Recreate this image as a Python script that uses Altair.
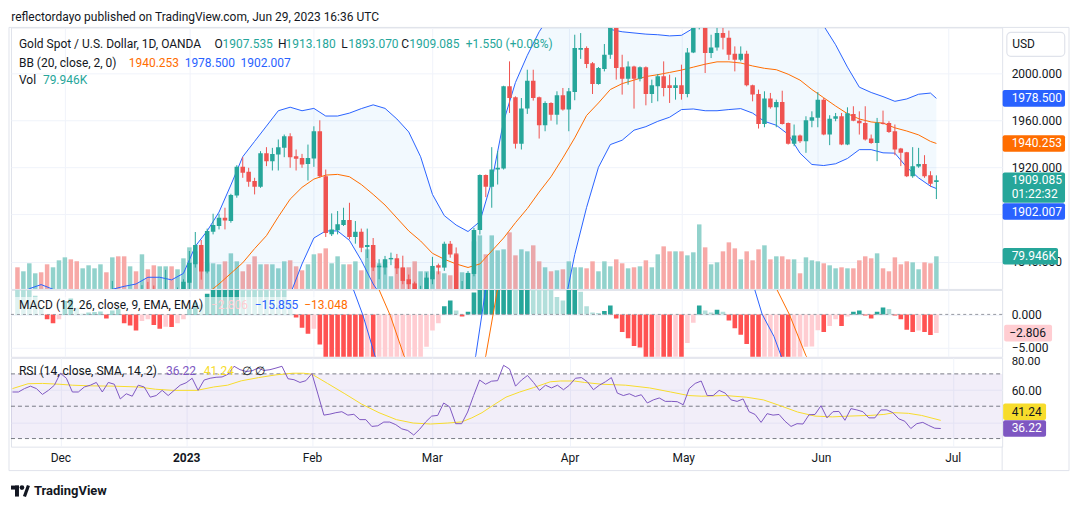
import altair as alt
import pandas as pd

# ------------------------------------------------------------------
# Daily XAU/USD (OANDA) bars: index 0 = 21 Nov 2022 ... 155 = 29 Jun 2023
# ------------------------------------------------------------------
OPEN = [1750, 1738, 1740, 1750, 1755, 1754, 1741, 1749, 1768, 1803,
        1797, 1769, 1771, 1786, 1789, 1797, 1781, 1810, 1807, 1777,
        1793, 1788, 1816, 1814, 1792, 1798, 1813, 1804, 1815, 1822,
        1837.7, 1854.1, 1831.5, 1865.4, 1870.2, 1877.2, 1874.4, 1896.1, 1920.4, 1916.2,
        1908.3, 1903.5, 1932, 1925.2, 1930.9, 1936.5, 1946.4, 1929.4, 1928, 1922.9,
        1927.5, 1950.6, 1912.5, 1863.1, 1866.5, 1871, 1875.2, 1860.9, 1865.4, 1852.4,
        1854, 1835.2, 1835, 1841.9, 1842.8, 1834.9, 1825, 1821.5, 1811, 1816.5,
        1825, 1836.9, 1834.9, 1855.2, 1846.2, 1813, 1814, 1829.5, 1866.8, 1913.4,
        1903.5, 1918.1, 1919, 1988.7, 1979.4, 1939.9, 1969.8, 1993.5, 1979.4, 1955.7,
        1974.6, 1964.7, 1981.1, 1969, 1983.9, 2019.8, 2021.2, 2008.2, 1990.7, 2003.4,
        2015.5, 2040, 2004.8, 1995.2, 2005.6, 1995.2, 2004.8, 1982.2, 1988.7, 1997.2,
        1989.6, 1987.3, 1989.6, 1982.2, 2017.5, 2039.5, 2050, 2016.9, 2021.7, 2034,
        2030, 2016.4, 2011.3, 2016.4, 1989.6, 1982.2, 1956.8, 1978.3, 1970.9, 1975.4,
        1957.7, 1939.9, 1946.9, 1942.1, 1959.6, 1962, 1977.4, 1947.8, 1961.3, 1963.3,
        1939.3, 1965.3, 1959.6, 1957.7, 1944.4, 1940.7, 1957.9, 1957.7, 1950.6, 1935.9,
        1932.8, 1912.5, 1920.7, 1922.9, 1913.3, 1907.535]
HIGH = [1752, 1750, 1755, 1760, 1759, 1764, 1763, 1774, 1805, 1810,
        1810, 1777, 1790, 1795, 1807, 1799, 1823.6, 1814, 1808, 1799,
        1799, 1820, 1822.8, 1819.7, 1805, 1833, 1814, 1818, 1825, 1849,
        1865.1, 1858.3, 1868, 1880.6, 1880.6, 1885.7, 1897.5, 1921.8, 1928.6, 1919.6,
        1911.1, 1933.7, 1937.1, 1936.5, 1943.6, 1947.8, 1948.9, 1935.1, 1931.4, 1939.3,
        1954.8, 1959.9, 1918.1, 1880.9, 1882.9, 1885.7, 1889.9, 1874.4, 1868, 1868,
        1860, 1842, 1844.8, 1847.6, 1846.5, 1845, 1829, 1823, 1819.5, 1830.7,
        1844, 1838.3, 1856.9, 1857.5, 1852, 1823.5, 1832, 1868.5, 1914, 1913.9,
        1937.1, 1933.7, 1989.2, 2009.9, 1980.2, 1978.8, 2002.8, 2002.8, 1980, 1976,
        1975.2, 1984.5, 1987.3, 1987.3, 2032.5, 2033.9, 2022.6, 2009.3, 2005.1, 2024.6,
        2048, 2047, 2015.5, 2009.9, 2006.2, 2005.6, 2005.6, 1994.4, 1999.2, 2009.9,
        1998.6, 1996.3, 2007.1, 2021.2, 2042, 2079, 2062, 2032.5, 2040, 2048,
        2036, 2022.6, 2022.6, 2018.9, 1990.1, 1985.9, 1984.5, 1983.1, 1977.4, 1985,
        1958, 1956.3, 1947.8, 1963.3, 1967.5, 1983.9, 1978.8, 1964.2, 1966.1, 1966.1,
        1970.9, 1971.8, 1967.5, 1971.8, 1947.8, 1961.9, 1968.1, 1959.1, 1956.3, 1936.5,
        1933.1, 1937.1, 1936.5, 1930.3, 1916.7, 1913.18]
LOW = [1734, 1736, 1733, 1748, 1749, 1740, 1740, 1745, 1766, 1787,
       1765, 1765, 1769, 1782, 1787, 1776, 1778, 1802, 1773, 1775,
       1784, 1786, 1810, 1785, 1791, 1796, 1798, 1800, 1812, 1815,
       1834.9, 1824.7, 1830, 1863.1, 1867.3, 1867.3, 1873, 1894.2, 1911.1, 1903.5,
       1897, 1902.6, 1921, 1917.3, 1917.3, 1928.6, 1919.6, 1917.3, 1919.6, 1908.8,
       1920.4, 1911.1, 1860.9, 1861.7, 1863.1, 1870.2, 1858.9, 1855.2, 1848, 1843,
       1832, 1825, 1829, 1837, 1829.5, 1820.8, 1816, 1809, 1805, 1813,
       1820.8, 1829.2, 1832.1, 1843.3, 1811, 1809, 1810, 1827.5, 1863, 1894.7,
       1885.7, 1905.4, 1918.1, 1966.1, 1935.9, 1935.1, 1965.3, 1976.6, 1944.4, 1950.6,
       1959.6, 1956.3, 1968.1, 1950.6, 1976.9, 2012, 2004.2, 1982.2, 1990.1, 2001.4,
       2012, 1994.4, 1981.7, 1990.1, 1969.8, 1992.9, 1972.6, 1974.6, 1976, 1980.2,
       1974.6, 1977.4, 1977.4, 1979.4, 2016.9, 2037, 2000, 2012.7, 2019, 2020,
       2011, 2001.4, 2009.9, 1988.7, 1976, 1952.9, 1954, 1969.8, 1954, 1956.3,
       1939.3, 1937.9, 1940.7, 1932.3, 1954, 1954, 1947.2, 1938.8, 1959.1, 1938.8,
       1938.8, 1959.1, 1947.8, 1942.7, 1939.9, 1925.2, 1956.3, 1949.2, 1930.3, 1921,
       1911.7, 1911.1, 1919.6, 1911.1, 1903.5, 1893.07]
CLOSE = [1738, 1740, 1750, 1755, 1754, 1741, 1749, 1768, 1803, 1797,
         1769, 1771, 1786, 1789, 1797, 1781, 1810, 1807, 1777, 1793,
         1788, 1816, 1814, 1792, 1798, 1813, 1804, 1815, 1822.8, 1839,
         1854.1, 1831.5, 1866, 1871, 1877.2, 1874.9, 1896.4, 1920.4, 1915.3, 1907.7,
         1903.5, 1932, 1925.2, 1931.4, 1937.1, 1946.4, 1928.6, 1927.2, 1922.4, 1928,
         1950.6, 1912.5, 1864.2, 1867.3, 1871.6, 1875.2, 1860.9, 1865.4, 1851.8, 1854,
         1835, 1836.5, 1842, 1843.1, 1834.3, 1823.6, 1820.8, 1811, 1816, 1826.4,
         1836.3, 1834.9, 1855.2, 1846, 1813, 1816, 1830.4, 1866.8, 1913.4, 1903.5,
         1918.1, 1919.6, 1988.7, 1978.8, 1939.9, 1969.8, 1993.5, 1978.8, 1955.7, 1974.6,
         1964.7, 1981.1, 1969, 1984.5, 2021.2, 2021.2, 2007.6, 1990.7, 2004.2, 2015.5,
         2040, 2004.2, 1995.2, 2005.6, 1995.2, 2004.8, 1982.2, 1989.6, 1997.2, 1987.3,
         1987.3, 1989.6, 1982.2, 2017.5, 2038.5, 2050, 2016.9, 2021.7, 2034, 2030,
         2015.5, 2011.3, 2016.4, 1989.6, 1981.7, 1956.8, 1978.3, 1970.9, 1975.4, 1956.8,
         1939.9, 1946.9, 1942.1, 1959.9, 1962.5, 1977.4, 1947.8, 1961.3, 1963.3, 1939.3,
         1965.8, 1959.6, 1957.4, 1943.5, 1940.7, 1957.9, 1956.8, 1950, 1935.1, 1932.3,
         1912.5, 1921, 1922.9, 1912.5, 1906, 1909.085]
VOLUME_K = [53.0, 43.2, 62.8, 38.3, 40.8, 60.3, 53.0, 70.1, 77.4, 72.5,
            67.6, 50.5, 57.9, 50.5, 60.3, 40.8, 77.4, 79.9, 79.9, 55.4,
            43.2, 84.8, 48.1, 57.9, 55.4, 55.4, 55.4, 48.1, 75.0, 101.9,
            92.1, 96.2, 62.8, 62.8, 60.3, 67.6, 87.2, 67.6, 43.2, 60.3,
            79.9, 60.3, 60.3, 60.3, 50.5, 67.6, 70.1, 55.4, 45.6, 60.3,
            84.8, 87.2, 99.4, 62.8, 79.9, 60.3, 60.3, 67.6, 45.6, 97.0,
            71.7, 62.8, 55.4, 31.0, 55.4, 53.0, 53.0, 67.6, 43.2, 43.2,
            43.2, 43.2, 38.3, 33.4, 88.0, 40.8, 38.3, 116.5, 131.2, 84.8,
            131.2, 94.5, 97.0, 138.6, 82.3, 97.0, 92.1, 106.8, 67.6, 53.0,
            43.2, 45.6, 48.1, 67.6, 53.0, 53.0, 50.5, 67.6, 43.2, 67.6,
            55.4, 72.5, 62.8, 50.5, 53.0, 55.4, 70.1, 53.0, 84.8, 104.3,
            92.1, 92.1, 92.1, 82.3, 89.7, 158.1, 101.9, 60.3, 65.2, 92.1,
            114.1, 99.4, 72.5, 92.1, 70.1, 97.0, 106.8, 72.5, 79.9, 79.9,
            72.5, 72.5, 38.3, 77.4, 70.1, 67.6, 62.8, 57.9, 50.5, 53.0,
            50.5, 50.5, 70.1, 79.9, 75.0, 87.2, 50.5, 43.2, 77.4, 60.3,
            67.6, 65.2, 48.1, 65.2, 62.8, 79.946]

# Bollinger Bands (20, close, 2) sampled along the bar index
BB_IDX = list(range(0, 156, 2)) + [155]
BB_UPPER = [1810, 1817, 1820.5, 1816.5, 1812, 1809, 1808, 1811, 1816.5, 1819,
            1821, 1826.7, 1826.7, 1824.5, 1830, 1853, 1866, 1882, 1905, 1929,
            1942, 1955, 1968, 1971, 1968, 1970, 1963.5, 1963.5, 1966, 1969.8,
            1973, 1970, 1961, 1950, 1929, 1897, 1879, 1871, 1865.5, 1874,
            1908, 1959, 1992, 2015, 2035, 2050, 2060, 2060, 2055, 2045,
            2037, 2035, 2034, 2033, 2032.5, 2031.5, 2032, 2038, 2048, 2052,
            2051, 2049, 2048, 2050, 2051, 2052, 2055, 2051, 2040, 2024,
            2005, 1988, 1983.5, 1980, 1976, 1978, 1982, 1983, 1978.5]
BB_BASIS = [1755, 1757, 1760, 1763, 1767, 1771, 1775, 1779, 1783, 1786,
            1789, 1792, 1795, 1798, 1802, 1807, 1813, 1821, 1830, 1839,
            1851, 1862, 1878, 1893, 1903, 1910, 1913.4, 1914, 1912, 1905.4,
            1897, 1888, 1877, 1866, 1857.5, 1847, 1842, 1838, 1835, 1838,
            1849, 1860, 1873, 1885, 1899, 1912, 1928, 1945, 1964, 1974.6,
            1986, 1991, 1994, 1997, 1998.6, 2000.5, 2002.5, 2005, 2007.5, 2009.5,
            2009.5, 2008.5, 2006, 2004, 2002.8, 1999, 1994, 1986, 1979, 1972,
            1965.5, 1961, 1958.5, 1957.5, 1953.5, 1950.8, 1947.5, 1942, 1940.253]
BB_LOWER = [1700, 1697, 1700, 1710, 1722, 1733, 1742, 1747, 1750, 1753,
            1757, 1758, 1763, 1771, 1774, 1761, 1760, 1760, 1755, 1749,
            1760, 1769, 1788, 1812, 1838, 1860, 1866, 1866, 1858, 1841,
            1821, 1806, 1793, 1782, 1786, 1797, 1805, 1805, 1804.5, 1802,
            1790, 1761, 1754, 1755, 1763, 1774, 1796, 1846, 1886, 1920,
            1939.3, 1943, 1951.5, 1954.5, 1959, 1962.5, 1969, 1969.5, 1968, 1968,
            1969, 1969.8, 1966, 1959, 1955.7, 1948, 1932, 1922.4, 1921.5, 1923,
            1927.5, 1935, 1935, 1932.3, 1932, 1920, 1911, 1904, 1902.007]

# MACD (12, 26, 9) histogram per bar
MACD_HIST = [4.5, 4.2, 3.9, 2.8, 1.0, -0.72, -1.34, -0.72, 2.0, 2.4,
             1.0, 0.15, 0.3, 0.35, 0.45, -0.6, 0.57, 0.82, -1.34, -1.65,
             -2.42, -0.98, -0.72, -1.6, -2.16, -1.86, -1.9, -1.34, -0.72, 0.8,
             1.8, 1.5, 3.1, 4.5, 5.5, 5.8, 6.5, 7.5, 7.2, 6.5,
             5.8, 5.6, 5.0, 4.5, 4.2, 4.0, 2.0, -0.46, -2.0, -2.9,
             -2.16, -4.5, -7.5, -9.0, -10.0, -10.5, -11.0, -11.2, -11.5, -11.3,
             -11.6, -11.4, -10.8, -10.0, -9.6, -9.5, -9.0, -8.2, -7.0, -4.85,
             -2.42, -1.34, 1.24, 2.1, 0.57, -0.3, 0.4, 3.3, 6.0, 7.0,
             8.0, 9.0, 12.0, 13.0, 12.0, 12.5, 13.0, 12.0, 8.0, 6.0,
             4.5, 2.6, 2.1, 4.0, 4.5, 3.4, 1.24, 0.3, 0.2, 0.5,
             1.34, -0.62, -2.63, -3.56, -4.74, -4.95, -7.0, -8.0, -7.8, -8.2,
             -8.5, -8.0, -8.3, -4.3, -1.24, 1.34, 0.57, 0.3, 0.7, 0.4,
             -0.93, -2.06, -3.04, -4.43, -6.8, -8.5, -8.2, -7.8, -7.5, -8.0,
             -8.5, -8.0, -7.0, -4.85, -4.8, -2.37, -2.63, -1.75, -0.72, -1.75,
             -0.31, 0.41, 0.57, -0.15, -0.62, 0.41, 1.03, 0.82, -0.15, -0.72,
             -2.32, -2.63, -2.42, -2.63, -3.09, -2.806]
MACD_LINE_IDX = [40, 50, 55, 56.6, 58.3, 60.3, 63, 70, 75, 77.3, 79, 82, 95,
                 115, 122, 124.3, 125.6, 127.6, 128.8, 132, 140, 148, 155]
MACD_LINE = [30, 18, 8, 3.9, -0.2, -6.2, -11, -17, -12, -6.2, 3.9, 12, 25,
             12, 6.5, 3.9, 0.05, -3.3, -6.2, -11, -14, -13, -15.855]
SIGNAL_IDX = [40, 55, 59, 60.9, 62.9, 65.2, 70, 76, 79, 81, 85, 100,
              120, 126, 128, 130.2, 133, 137, 145, 155]
SIGNAL_LINE = [25, 14, 7, 3.9, -0.2, -6.2, -13, -14, -6.2, 3.9, 12, 22,
               14, 7, 3.9, 0, -6.2, -11, -12.5, -13.048]

# RSI (14) per bar and its 14-period SMA
RSI = [58.8, 58.8, 60.9, 62.4, 60.9, 57.3, 59.8, 63.0, 70.4, 67.3,
       58.8, 58.8, 61.9, 63.0, 64.7, 58.8, 64.7, 63.6, 54.5, 57.7,
       56.2, 63.0, 61.9, 55.6, 56.6, 59.8, 56.6, 59.8, 63.0, 64.5,
       67.3, 59.8, 66.2, 67.3, 67.9, 68.1, 69.8, 74.7, 72.6, 71.5,
       71.9, 73.6, 72.1, 72.6, 73.6, 74.7, 67.0, 66.4, 64.7, 65.8,
       70.2, 57.5, 44.5, 45.1, 46.0, 46.6, 44.5, 45.0, 41.7, 41.7,
       37.5, 37.9, 40.2, 40.2, 38.6, 36.0, 35.0, 32.2, 35.8, 40.3,
       43.9, 44.3, 52.0, 49.6, 39.2, 39.2, 46.4, 56.6, 66.2, 63.6,
       65.5, 65.8, 75.3, 73.0, 62.4, 66.2, 69.0, 64.7, 59.8, 63.0,
       61.3, 63.0, 60.2, 63.0, 67.3, 67.7, 65.1, 60.2, 63.0, 65.1,
       67.7, 58.1, 56.6, 57.7, 56.0, 57.1, 52.0, 53.9, 55.1, 53.0,
       53.0, 52.8, 50.9, 60.9, 64.1, 65.6, 56.6, 56.6, 59.8, 58.1,
       53.9, 53.0, 54.5, 46.6, 44.9, 40.0, 45.4, 44.5, 44.9, 40.7,
       37.5, 39.2, 39.0, 44.7, 44.9, 50.3, 42.8, 46.6, 46.8, 41.3,
       48.5, 47.7, 46.6, 42.8, 42.8, 47.7, 47.7, 46.0, 42.2, 40.7,
       36.2, 39.2, 40.0, 38.1, 36.4, 36.22]
RSI_SMA_IDX = [0, 2.6, 5, 7.8, 10, 13, 17, 21, 23.9, 26.8, 30.8, 33.6, 35.9, 38.2,
               41.1, 44, 46.8, 48.6, 50, 52.6, 55.5, 58.3, 61.2, 64.1, 66.9, 69.8,
               72.7, 75, 76.7, 78.4, 80.1, 82.4, 84.7, 87, 89.8, 91.5, 93.8, 95.5,
               98.4, 102.4, 106.4, 109.9, 112.9, 115.1, 119.1, 122.5, 125.4, 128.3,
               131.1, 134, 136.9, 139.7, 143.2, 145.5, 147.2, 149.6, 151.8, 155]
RSI_SMA = [60.9, 63.9, 64.1, 63.6, 63.0, 62.6, 62.4, 61.9, 60.5, 59.8, 59.8, 61.9,
           63.0, 65.7, 67.7, 69.4, 70.4, 70.4, 69.8, 64.1, 57.7, 51.3, 46.0, 41.7,
           39.6, 39.0, 39.6, 40.3, 42.8, 46.0, 50.2, 55.6, 58.8, 61.5, 65.1, 65.6,
           65.6, 64.7, 63.6, 63.0, 61.3, 58.8, 56.6, 56.2, 56.6, 55.6, 53.9, 50.2,
           46.4, 43.9, 43.4, 43.9, 44.3, 44.9, 46.0, 45.6, 44.3, 41.24]
RSI_LEVELS = [70, 50, 30]

MONTH_TICKS = [8, 29, 50, 70, 93, 112, 135, 157]
MONTH_NAMES = ["Dec", "2023", "Feb", "Mar", "Apr", "May", "Jun", "Jul"]

# ------------------------------------------------------------------
# Styling
# ------------------------------------------------------------------
FONT = "Roboto"
TXT = "#131722"
GRID = "#f0f3fa"
BORDER = "#e0e3eb"
UP, DN = "#26a69a", "#ef5350"
VOL_UP, VOL_DN = "#92d2cc", "#f7a9a7"
BLUE, ORANGE = "#2962ff", "#ff6d00"
PURPLE, YELLOW = "#7e57c2", "#f7dc2c"
HIST_COLORS = ["#26a69a", "#b2dfdb", "#ff5252", "#ffcdd2"]

W = 993
H_MAIN, H_MACD, H_RSI = 262, 67, 89

# ------------------------------------------------------------------
# Tables
# ------------------------------------------------------------------
N = len(CLOSE)
bars = pd.DataFrame({"i": list(range(N)), "open": OPEN, "high": HIGH,
                     "low": LOW, "close": CLOSE, "vol": VOLUME_K})
bb = pd.DataFrame({"i": BB_IDX, "upper": BB_UPPER, "basis": BB_BASIS, "lower": BB_LOWER})

prev = [MACD_HIST[0] + 0.3] + MACD_HIST[:-1]
codes = []
for h, p in zip(MACD_HIST, prev):
    if h >= 0:
        codes.append("G" if h > p else "g")
    else:
        codes.append("r" if h > p else "R")
hist = pd.DataFrame({"i": list(range(N)), "h": MACD_HIST, "code": codes, "zero": 0.0})
macd_line = pd.DataFrame({"i": MACD_LINE_IDX, "v": MACD_LINE})
signal_line = pd.DataFrame({"i": SIGNAL_IDX, "v": SIGNAL_LINE})
rsi = pd.DataFrame({"i": list(range(N)), "v": RSI})
rsi_sma = pd.DataFrame({"i": RSI_SMA_IDX, "v": RSI_SMA})
levels = pd.DataFrame({"lvl": RSI_LEVELS})
ONE = pd.DataFrame({"k": [0]})

# ------------------------------------------------------------------
# Scales and axes
# ------------------------------------------------------------------
X_SCALE = alt.Scale(domain=[-0.25, 165.25], nice=False, zero=False)
GRID_X = alt.Axis(values=MONTH_TICKS, grid=True, gridColor=GRID, labels=False,
                  ticks=False, domain=False, title=None)
label_expr = " : ".join(f"datum.value == {v} ? '{n}'" for v, n in zip(MONTH_TICKS, MONTH_NAMES)) + " : ''"
TIME_X = alt.Axis(values=MONTH_TICKS, grid=True, gridColor=GRID, ticks=False, domain=False,
                  title=None, labelExpr=label_expr, labelFont=FONT, labelFontSize=12,
                  labelColor=TXT, labelPadding=6, labelFlush=False, labelOverlap=False,
                  labelFontWeight={"condition": {"test": "datum.value == 29", "value": "bold"},
                                   "value": "normal"})

PRICE = alt.Scale(domain=[1816.8, 2038.7], nice=False, zero=False)
# the 1880 level sits under the lower-band price tag, so only its grid line shows
PRICE_AXIS = alt.Axis(orient="right", values=[1840, 1880, 1920, 1960, 2000],
                      labelExpr="datum.value == 1880 ? '' : format(datum.value, '.3f')",
                      grid=True, gridColor=GRID, ticks=False, domain=False, title=None,
                      labelPadding=9, labelFontSize=12, labelColor=TXT, labelFont=FONT)
VOL = alt.Scale(domain=[0, 640.6], nice=False, zero=True)
MS = alt.Scale(domain=[-6.36, 3.67], nice=False, zero=False)
MACD_AXIS = alt.Axis(orient="right", values=[-5, 0], format=".3f", grid=True, gridColor=GRID,
                     ticks=False, domain=False, title=None, labelPadding=9, labelFontSize=12,
                     labelColor=TXT, labelFont=FONT)
RS = alt.Scale(domain=[25, 79.94], nice=False, zero=False)
# 40 is hidden behind the RSI tags; 80 is written separately just under the pane edge
RSI_AXIS = alt.Axis(orient="right", values=[40, 60, 80],
                    labelExpr="datum.value == 60 ? format(datum.value, '.2f') : ''",
                    grid=True, gridColor=GRID,
                    ticks=False, domain=False, title=None, labelPadding=9, labelFontSize=12,
                    labelColor=TXT, labelFont=FONT)


def xq(axis):
    return alt.X("i:Q", scale=X_SCALE, axis=axis)


def text(t, x, y, color=TXT, size=12, weight="normal", align="left"):
    return alt.Chart(ONE).mark_text(text=t, align=align, baseline="middle", font=FONT,
                                    fontSize=size, fontWeight=weight, color=color).encode(
        x=alt.value(x), y=alt.value(y))


def box(x0, y0, x1, y1, **kw):
    return alt.Chart(ONE).mark_rect(**kw).encode(
        x=alt.value(x0), x2=alt.value(x1), y=alt.value(y0), y2=alt.value(y1))


def badge(value, labels, fill, color, scale, axis, x0=993.5, x1=1056, off=0.0,
          top=8.3, bottom=8.3, tx=1002.5):
    layers = [alt.Chart(ONE).mark_rect(fill=fill, yOffset=off - top, y2Offset=off + bottom,
                                       cornerRadius=2).encode(
        x=alt.value(x0), x2=alt.value(x1),
        y=alt.Y(datum=value, scale=scale, axis=axis), y2=alt.Y2(datum=value))]
    for k, lab in enumerate(labels):
        layers.append(alt.Chart(ONE).mark_text(text=lab, align="left", baseline="middle",
                                               font=FONT, fontSize=12, color=color,
                                               dy=off + 13.5 * k).encode(
            x=alt.value(tx), y=alt.Y(datum=value, scale=scale, axis=axis)))
    return layers


up_cond = "datum.close >= datum.open"

# ------------------------------------------------------------------
# Price pane: volume, Bollinger Bands, candles
# ------------------------------------------------------------------
vol_bars = alt.Chart(bars).mark_bar(size=4.5).encode(
    x=xq(GRID_X), y=alt.Y("vol:Q", scale=VOL, axis=None),
    color=alt.condition(up_cond, alt.value(VOL_UP), alt.value(VOL_DN)))
vol_layer = alt.layer(vol_bars, *badge(79.946, ["79.946K"], UP, "white", VOL, None,
                                      x0=993.5, x1=1049))

py = lambda f: alt.Y(f, scale=PRICE, axis=PRICE_AXIS)

bound = box(-10, -26, 1070, 480, opacity=0)
bb_fill = alt.Chart(bb).mark_area(clip=True, color="#2196f3", opacity=0.06).encode(
    x=xq(GRID_X), y=py("upper:Q"), y2="lower:Q")
bb_up = alt.Chart(bb).mark_line(clip=True, color=BLUE, strokeWidth=1).encode(x=xq(GRID_X), y=py("upper:Q"))
bb_lo = alt.Chart(bb).mark_line(clip=True, color=BLUE, strokeWidth=1).encode(x=xq(GRID_X), y=py("lower:Q"))
bb_mid = alt.Chart(bb).mark_line(clip=True, color=ORANGE, strokeWidth=1).encode(x=xq(GRID_X), y=py("basis:Q"))
wicks = alt.Chart(bars).mark_rule(clip=True, strokeWidth=1).encode(
    x=xq(GRID_X), y=py("low:Q"), y2="high:Q",
    color=alt.condition(up_cond, alt.value(UP), alt.value(DN)))
bodies = alt.Chart(bars).mark_bar(clip=True, size=4.5).encode(
    x=xq(GRID_X), y=py("open:Q"), y2="close:Q",
    color=alt.condition(up_cond, alt.value(UP), alt.value(DN)))

price_badges = (badge(1978.5, ["1978.500"], BLUE, "white", PRICE, PRICE_AXIS)
                + badge(1940.253, ["1940.253"], ORANGE, "white", PRICE, PRICE_AXIS)
                + badge(1909.085, ["1909.085", "01:22:32"], UP, "white", PRICE, PRICE_AXIS,
                        top=7.6, bottom=22.6)
                + badge(1902.007, ["1902.007"], BLUE, "white", PRICE, PRICE_AXIS, off=23.1))

legend_main = [
    text("reflectordayo published on TradingView.com, Jun 29, 2023 16:36 UTC", 0.3, -10.5, size=12),
    text("Gold Spot / U.S. Dollar, 1D, OANDA", 8, 17),
    text("O", 204, 17), text("1907.535", 212, 17, UP),
    text("H", 267.5, 17), text("1913.180", 275, 17, UP),
    text("L", 331, 17), text("1893.070", 338, 17, UP),
    text("C", 391, 17), text("1909.085", 399, 17, UP),
    text("+1.550 (+0.08%)", 455.6, 17, UP),
    text("BB (20, close, 2, 0)", 8, 35.3),
    text("1940.253", 118, 35.3, ORANGE), text("1978.500", 174, 35.3, BLUE),
    text("1902.007", 230, 35.3, BLUE),
    text("Vol", 8, 52.5), text("79.946K", 32, 52.5, UP),
]

frame = [
    box(-2, 0, 1060, 444, fillOpacity=0, stroke=BORDER, strokeWidth=1),
    alt.Chart(ONE).mark_rule(color=BORDER).encode(x=alt.value(993), y=alt.value(420), y2=alt.value(444)),
    box(997.7, 5, 1055.7, 29, fill="white", stroke=BORDER, strokeWidth=1.2, cornerRadius=4),
    text("USD", 1003, 17),
    # footer logo
    box(0, 459, 8, 463, fill=TXT), box(4, 459, 8, 470, fill=TXT),
    alt.Chart(ONE).mark_point(filled=True, size=22, color=TXT, opacity=1).encode(
        x=alt.value(11), y=alt.value(461)),
    alt.Chart(ONE).mark_rule(color=TXT, strokeWidth=3.2).encode(
        x=alt.value(17.5), x2=alt.value(13.5), y=alt.value(459), y2=alt.value(470)),
    text("TradingView", 23, 464.5, size=13, weight="bold"),
]

price_layer = alt.layer(bound, bb_fill, bb_up, bb_lo, bb_mid, wicks, bodies,
                        *price_badges, *legend_main, *frame)
main = alt.layer(vol_layer, price_layer).resolve_scale(y="independent").properties(
    width=W, height=H_MAIN)

# ------------------------------------------------------------------
# MACD pane
# ------------------------------------------------------------------
hist_bars = alt.Chart(hist).mark_bar(clip=True, size=4.6).encode(
    x=xq(GRID_X), y=alt.Y("h:Q", scale=MS, axis=MACD_AXIS), y2="zero:Q",
    color=alt.Color("code:N", scale=alt.Scale(domain=["G", "g", "R", "r"], range=HIST_COLORS),
                    legend=None))
zero_line = alt.Chart(ONE).mark_rule(color="#9598a1", strokeDash=[3, 3], strokeWidth=1).encode(
    x=alt.value(0), x2=alt.value(W), y=alt.Y(datum=0, scale=MS, axis=MACD_AXIS))
m_line = alt.Chart(macd_line).mark_line(clip=True, color=BLUE, strokeWidth=1).encode(
    x=xq(GRID_X), y=alt.Y("v:Q", scale=MS, axis=MACD_AXIS))
s_line = alt.Chart(signal_line).mark_line(clip=True, color=ORANGE, strokeWidth=1).encode(
    x=xq(GRID_X), y=alt.Y("v:Q", scale=MS, axis=MACD_AXIS))
macd_legend = [
    box(4, 7, 338, 24, fill="white", opacity=0.6),
    text("MACD (12, 26, close, 9, EMA, EMA)", 8, 15.6),
    text("\u22122.806", 200.4, 15.6, "#ffcdd2"),
    text("\u221215.855", 244.1, 15.6, BLUE),
    text("\u221213.048", 293.7, 15.6, ORANGE),
]
macd = alt.layer(hist_bars, zero_line, m_line, s_line, *macd_legend,
                 *badge(-2.806, ["\u22122.806"], "#ffcdd2", TXT, MS, MACD_AXIS,
                        x0=995, x1=1043, tx=1000)).properties(width=W, height=H_MACD)

# ------------------------------------------------------------------
# RSI pane
# ------------------------------------------------------------------
band = alt.Chart(ONE).mark_rect(color=PURPLE, opacity=0.1).encode(
    x=alt.value(0), x2=alt.value(W),
    y=alt.Y(datum=70, scale=RS, axis=RSI_AXIS), y2=alt.Y2(datum=30))
level_lines = alt.Chart(levels).mark_rule(color="#787b86", strokeDash=[4, 3], strokeWidth=1).encode(
    x=alt.value(0), x2=alt.value(W), y=alt.Y("lvl:Q", scale=RS, axis=RSI_AXIS))
rsi_line = alt.Chart(rsi).mark_line(color=PURPLE, strokeWidth=1).encode(
    x=xq(TIME_X), y=alt.Y("v:Q", scale=RS, axis=RSI_AXIS))
sma_line = alt.Chart(rsi_sma).mark_line(color=YELLOW, strokeWidth=1).encode(
    x=xq(TIME_X), y=alt.Y("v:Q", scale=RS, axis=RSI_AXIS))
rsi_legend = [
    text("RSI (14, close, SMA, 14, 2)", 8, 13.7),
    text("36.22", 155.3, 13.7, PURPLE),
    text("41.24", 193.2, 13.7, YELLOW),
    text("\u2205 \u2205", 231, 13.7),
    text("80.00", 1002.5, 4, size=11.5),
]
rsi_pane = alt.layer(band, level_lines, sma_line, rsi_line, *rsi_legend,
                     *badge(41.24, ["41.24"], YELLOW, TXT, RS, RSI_AXIS, x0=994, x1=1037, off=-8.7),
                     *badge(36.22, ["36.22"], PURPLE, "white", RS, RSI_AXIS, x0=994, x1=1037)
                     ).properties(width=W, height=H_RSI)

chart = alt.vconcat(main, macd, rsi_pane, spacing=1, bounds="flush").properties(
    padding=0, background="white"
).configure_view(stroke=BORDER, strokeWidth=1).configure_text(font=FONT)

chart.save("out.html", embed_options={"renderer": "svg", "actions": False})
